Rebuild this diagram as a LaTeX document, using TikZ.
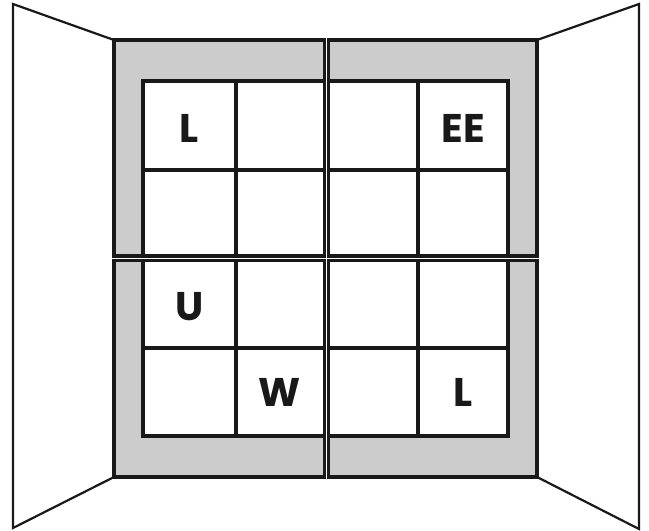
\documentclass[tikz,border=0pt]{standalone}
\usepackage{fontspec}
\newfontfamily\lblfont{Poppins}
\usepackage{tikz}

\begin{document}
\begin{tikzpicture}[
    x=1pt, y=-1pt,
    wing/.style={line width=2.2pt, draw=black!90},
    panel/.style={line width=3.2pt, draw=black!90, fill=gray!40},
    cellbox/.style={line width=3.2pt, draw=black!90, fill=white},
    letter/.style={font=\lblfont\bfseries\fontsize{40}{40}\selectfont, text=black!90, inner sep=0pt},
]
\useasboundingbox (0,0) rectangle (649,531);

% side wings
\draw[wing] (114,40) -- (13,4) -- (13,528) -- (114,477);
\draw[wing] (537,40) -- (639,4) -- (639,529) -- (537,477);

% four folding panels
\foreach \xa/\xb/\ya/\yb in {114/324.5/40/256, 328.5/537/40/256, 114/324.5/260.7/477, 328.5/537/260.7/477}
  \draw[panel] (\xa,\ya) rectangle (\xb,\yb);

% cells
\foreach \xa/\xb in {143/236, 236/324.5, 328.5/418, 418/508}
  \foreach \ya/\yb in {81/170, 170/256, 260.7/348, 348/436}
    \draw[cellbox] (\xa,\ya) rectangle (\xb,\yb);

% panel edges on top
\foreach \xa/\xb/\ya/\yb in {114/324.5/40/256, 328.5/537/40/256, 114/324.5/260.7/477, 328.5/537/260.7/477}
  \draw[line width=3.2pt, draw=black!90] (\xa,\ya) rectangle (\xb,\yb);

% letters
\node[letter] (l1) at (189.5,128) {L};
\node[letter] (ee) at (463,128) {EE};
\node[letter] (u) at (189.5,307) {U};
\node[letter] (w) at (280,392) {W};
\node[letter] (l2) at (463,392) {L};

\end{tikzpicture}
\end{document}
